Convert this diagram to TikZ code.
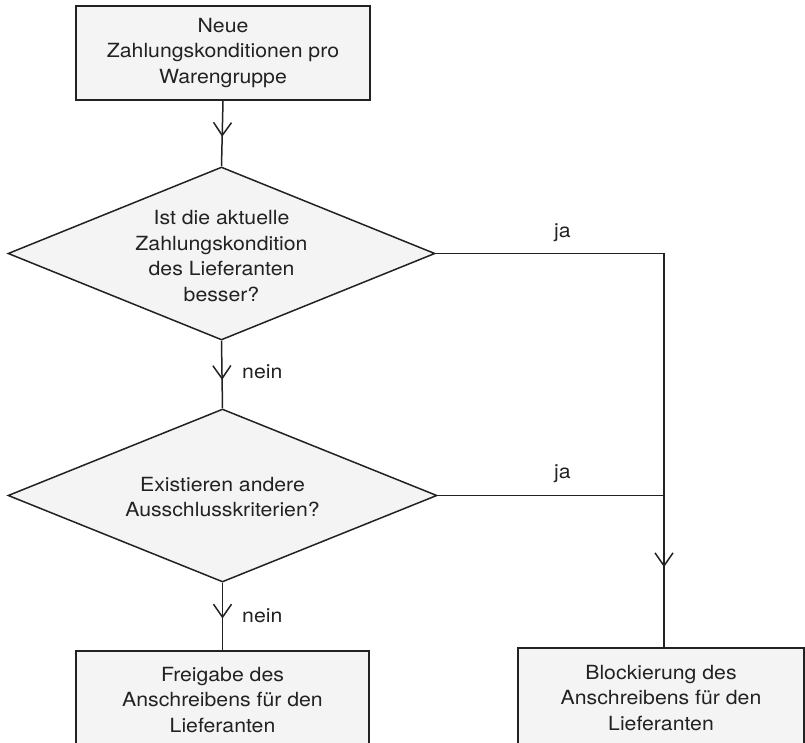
\documentclass[tikz,border=0pt]{standalone}
\usepackage{fontspec}
\setmainfont{TeX Gyre Heros}[FakeStretch=1.09]
\usetikzlibrary{arrows.meta,decorations.markings,shapes.geometric}

\definecolor{linegray}{HTML}{222222}
\definecolor{boxfill}{HTML}{F4F4F4}

\tikzset{
  x=1pt, y=-1pt,
  every node/.style={font=\fontsize{19.5}{25.5}\selectfont, text=linegray},
  procbox/.style={draw=linegray, fill=boxfill, line width=1.5pt, rectangle,
    align=center, inner sep=0pt},
  decision/.style={draw=linegray, fill=boxfill, line width=1.5pt, diamond,
    inner sep=0pt},
  qtext/.style={align=center, inner sep=0pt},
  edgelabel/.style={inner sep=0pt},
  conn/.style={draw=linegray, line width=1.5pt},
  midarrow/.style={decoration={markings,
      mark=at position #1 with {\arrow{Straight Barb[length=13pt,width=18pt,line width=1.5pt]}}},
    postaction={decorate}},
}

\begin{document}
\begin{tikzpicture}
\useasboundingbox (0,0) rectangle (805,743);
\clip (0,0) rectangle (805,743);

% process boxes (the two lower ones run past the bottom edge)
\node[procbox, minimum width=294pt, minimum height=94pt] (start) at (223,53)
  {Neue\\Zahlungskonditionen pro\\Warengruppe};
\node[procbox, minimum width=293pt, minimum height=98pt] (free) at (222.5,700)
  {Freigabe des\\Anschreibens für den\\Lieferanten};
\node[procbox, minimum width=286pt, minimum height=100pt] (block) at (661,698)
  {Blockierung des\\Anschreibens für den\\Lieferanten};

% decisions
\node[decision, minimum width=427pt, minimum height=173pt] (d1) at (221.5,253.5) {};
\node[qtext] (q1) at (221.5,256)
  {Ist die aktuelle\\Zahlungskondition\\des Lieferanten\\besser?};
\node[decision, minimum width=429pt, minimum height=173pt] (d2) at (222.5,495.5) {};
\node[qtext] (q2) at (222.5,497)
  {Existieren andere\\Ausschlusskriterien?};

% corner and junction of the "ja" branches
\coordinate (corner) at (664,253.5);
\coordinate (join) at (664,495.5);
\coordinate (blocktop) at (664,648);

% connectors
\draw[conn, midarrow=0.55] (start.south) -- (d1.north);
\draw[conn, midarrow=0.58] (d1.south) -- (d2.north);
\draw[conn, midarrow=0.53] (d2.south) -- (free.north);
\draw[conn] (d1.east) -- (corner) -- (join);
\draw[conn] (d2.east) -- (join);
\draw[conn, midarrow=0.47] (join) -- (blocktop);

% branch labels
\node[edgelabel, anchor=base west] (ja1) at (554,238) {ja};
\node[edgelabel, anchor=base west] (ja2) at (554,478) {ja};
\node[edgelabel, anchor=base west] (nein1) at (242,378) {nein};
\node[edgelabel, anchor=base west] (nein2) at (242,622) {nein};
\end{tikzpicture}
\end{document}
